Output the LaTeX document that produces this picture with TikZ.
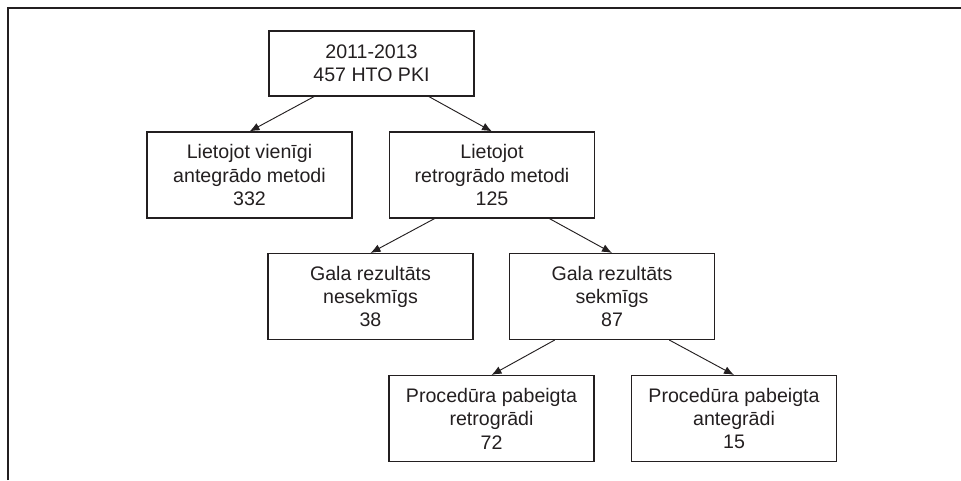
\documentclass[tikz,border=0pt]{standalone}
\usepackage{fontspec}
\setmainfont{Liberation Sans}
\usetikzlibrary{arrows.meta}
\definecolor{ink}{HTML}{231F20}

\tikzset{
  box/.style={draw=ink, line width=0.8pt, text=ink, align=center,
    minimum width=153.75pt, minimum height=64.5pt, inner sep=0pt,
    font=\fontsize{14.7}{17.6}\selectfont},
  link/.style={->, draw=ink, line width=0.7pt},
}

\begin{document}
\begin{tikzpicture}[x=0.75pt, y=-0.75pt, >={Latex[length=7.5pt,width=6pt]}]
  \useasboundingbox (0,0) rectangle (961,480);
  \draw[ink, line width=0.9pt] (8,480) -- (8,8) -- (961,8);

  \node[box, minimum height=48.75pt] (total) at (371.5,63.5) {2011-2013\\457 HTO PKI};
  \node[box] (ante)  at (249.5,175) {Lietojot vienīgi\\antegrādo metodi\\332};
  \node[box] (retro) at (492,175)   {Lietojot\\retrogrādo metodi\\125};
  \node[box] (fail)  at (370.5,296.5) {Gala rezultāts\\nesekmīgs\\38};
  \node[box] (ok)    at (612,296.5) {Gala rezultāts\\sekmīgs\\87};
  \node[box] (endretro) at (491.5,418.5) {Procedūra pabeigta\\retrogrādi\\72};
  \node[box] (endante)  at (734,418.5)   {Procedūra pabeigta\\antegrādi\\15};

  \draw[link] ([xshift=-43pt]total.south) -- (ante.north);
  \draw[link] ([xshift=43pt]total.south) -- (retro.north);
  \draw[link] ([xshift=-43pt]retro.south) -- (fail.north);
  \draw[link] ([xshift=43pt]retro.south) -- (ok.north);
  \draw[link] ([xshift=-43pt]ok.south) -- (endretro.north);
  \draw[link] ([xshift=43pt]ok.south) -- (endante.north);
\end{tikzpicture}
\end{document}
